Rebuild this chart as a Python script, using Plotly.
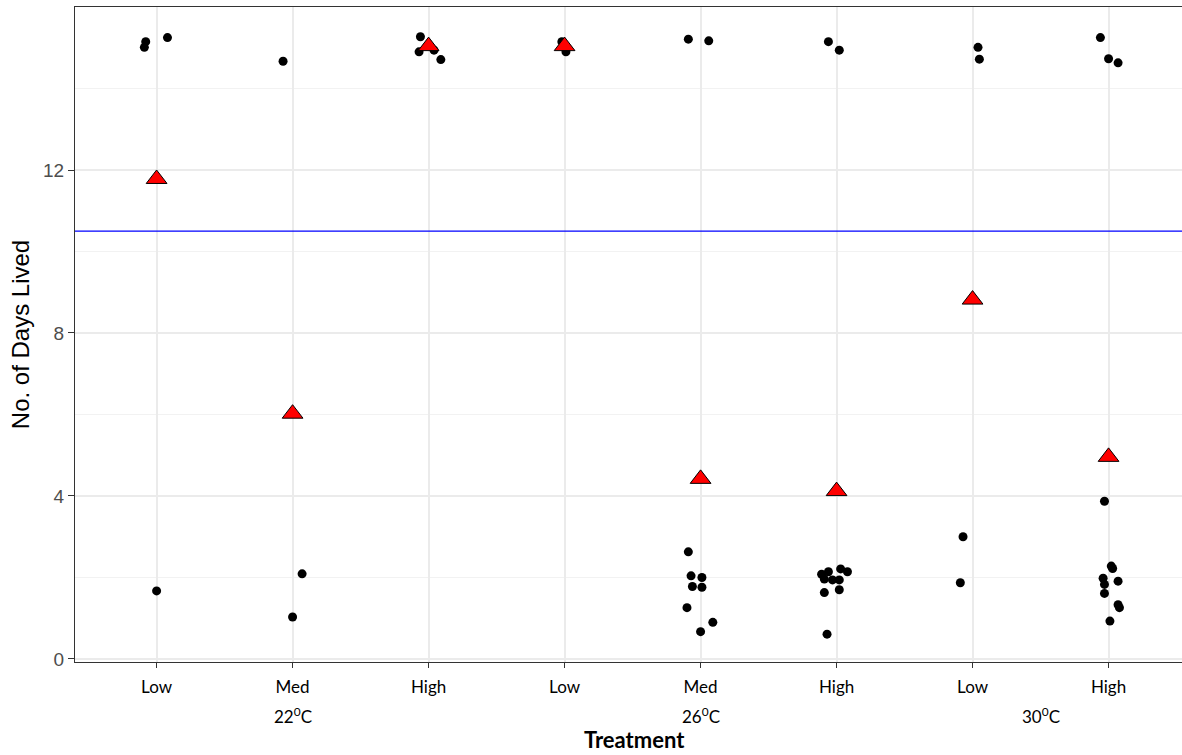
import plotly.graph_objects as go

# Categories (position order) and labels
categories = ["Low", "Med", "High", "Low", "Med", "High", "Low", "High"]
temperature_labels = ["22<sup>0</sup>C", "26<sup>0</sup>C", "30<sup>0</sup>C"]
temperature_positions = [2, 5, 7.5]

# Individual observations (days lived) per group, with horizontal jitter (category units)
g1_y = [15.01, 15.15, 15.25, 1.67]
g1_dx = [-0.09, -0.08, 0.08, 0.0]
g2_y = [14.67, 1.03, 2.09]
g2_dx = [-0.07, 0.0, 0.07]
g3_y = [15.27, 14.90, 14.94, 14.71]
g3_dx = [-0.06, -0.07, 0.04, 0.09]
g4_y = [15.15, 14.90]
g4_dx = [-0.02, 0.01]
g5_y = [15.21, 15.17, 2.63, 2.04, 2.00, 1.78, 1.76, 1.26, 0.90, 0.67]
g5_dx = [-0.09, 0.06, -0.09, -0.07, 0.01, -0.06, 0.01, -0.1, 0.09, 0.0]
g6_y = [15.15, 14.94, 2.08, 2.14, 1.96, 1.94, 1.94, 2.21, 2.14, 1.63, 1.70, 0.61]
g6_dx = [-0.06, 0.02, -0.11, -0.06, -0.09, -0.03, 0.02, 0.03, 0.08, -0.09, 0.02, -0.07]
g7_y = [15.01, 14.72, 3.00, 1.87]
g7_dx = [0.04, 0.05, -0.07, -0.09]
g8_y = [15.25, 14.73, 14.63, 3.87, 2.28, 2.22, 1.98, 1.91, 1.83, 1.61, 1.33, 1.26, 0.93]
g8_dx = [-0.06, 0.0, 0.07, -0.03, 0.02, 0.03, -0.04, 0.07, -0.03, -0.03, 0.07, 0.08, 0.01]

groups_y = [g1_y, g2_y, g3_y, g4_y, g5_y, g6_y, g7_y, g8_y]
groups_dx = [g1_dx, g2_dx, g3_dx, g4_dx, g5_dx, g6_dx, g7_dx, g8_dx]

# Group means (red triangles)
means = [11.78, 6.02, 15.04, 15.04, 4.42, 4.12, 8.82, 4.96]
# Overall reference line
overall_mean = 10.5

xs, ys = [], []
for i, (gy, gdx) in enumerate(zip(groups_y, groups_dx)):
    for v, d in zip(gy, gdx):
        xs.append(i + 1 + d)
        ys.append(v)

fig = go.Figure()
fig.add_trace(go.Scatter(
    x=xs, y=ys, mode="markers",
    marker=dict(color="black", size=9, line=dict(width=0)),
    showlegend=False, hoverinfo="y"))
fig.add_trace(go.Scatter(
    x=list(range(1, len(means) + 1)), y=means, mode="markers",
    marker=dict(symbol="triangle-up", color="red", size=18,
                line=dict(color="black", width=1)),
    showlegend=False))

fig.add_hline(y=overall_mean, line=dict(color="#0000ff", width=1.3))

for lab, pos in zip(temperature_labels, temperature_positions):
    fig.add_annotation(text=lab, x=pos, y=0, xref="x", yref="paper",
                       yanchor="top", yshift=-40, showarrow=False,
                       font=dict(family="Lato, Open Sans, sans-serif", size=17, color="black"))
fig.add_annotation(text="<b>Treatment</b>", x=0.505, y=0, xref="paper", yref="paper",
                   yanchor="middle", yshift=-77, showarrow=False,
                   font=dict(family="Lato, Open Sans, sans-serif", size=22, color="black"))

fig.update_layout(
    width=1182, height=755,
    margin=dict(l=75, r=0, t=7, b=93),
    plot_bgcolor="white", paper_bgcolor="white",
    xaxis=dict(
        range=[0.4, 8.54],
        tickmode="array", tickvals=list(range(1, 9)),
        ticktext=categories,
        tickfont=dict(family="Lato, Open Sans, sans-serif", size=17, color="black"),
        ticks="outside", ticklen=5, tickcolor="#333333",
        ticklabelstandoff=4,
        showgrid=True, gridcolor="#ebebeb", gridwidth=1.5,
        showline=True, linecolor="#333333", linewidth=1.2, mirror=True,
        zeroline=False,
    ),
    yaxis=dict(
        range=[-0.074, 16.0],
        tickvals=[0, 4, 8, 12],
        tickfont=dict(family="Arial, Liberation Sans, sans-serif", size=19, color="#4d4d4d"),
        ticks="outside", ticklen=6, tickcolor="#333333",
        showgrid=True, gridcolor="#ebebeb", gridwidth=1.5,
        minor=dict(tickvals=[2, 6, 10, 14], showgrid=True, gridcolor="#f2f2f2", gridwidth=1, ticks=""),
        showline=True, linecolor="#333333", linewidth=1.2, mirror=False,
        zeroline=False,
        title=dict(text="No. of Days Lived",
                   font=dict(family="Arial, Liberation Sans, sans-serif", size=24, color="black"),
                   standoff=6),
    ),
)

fig.write_html("out.html")
